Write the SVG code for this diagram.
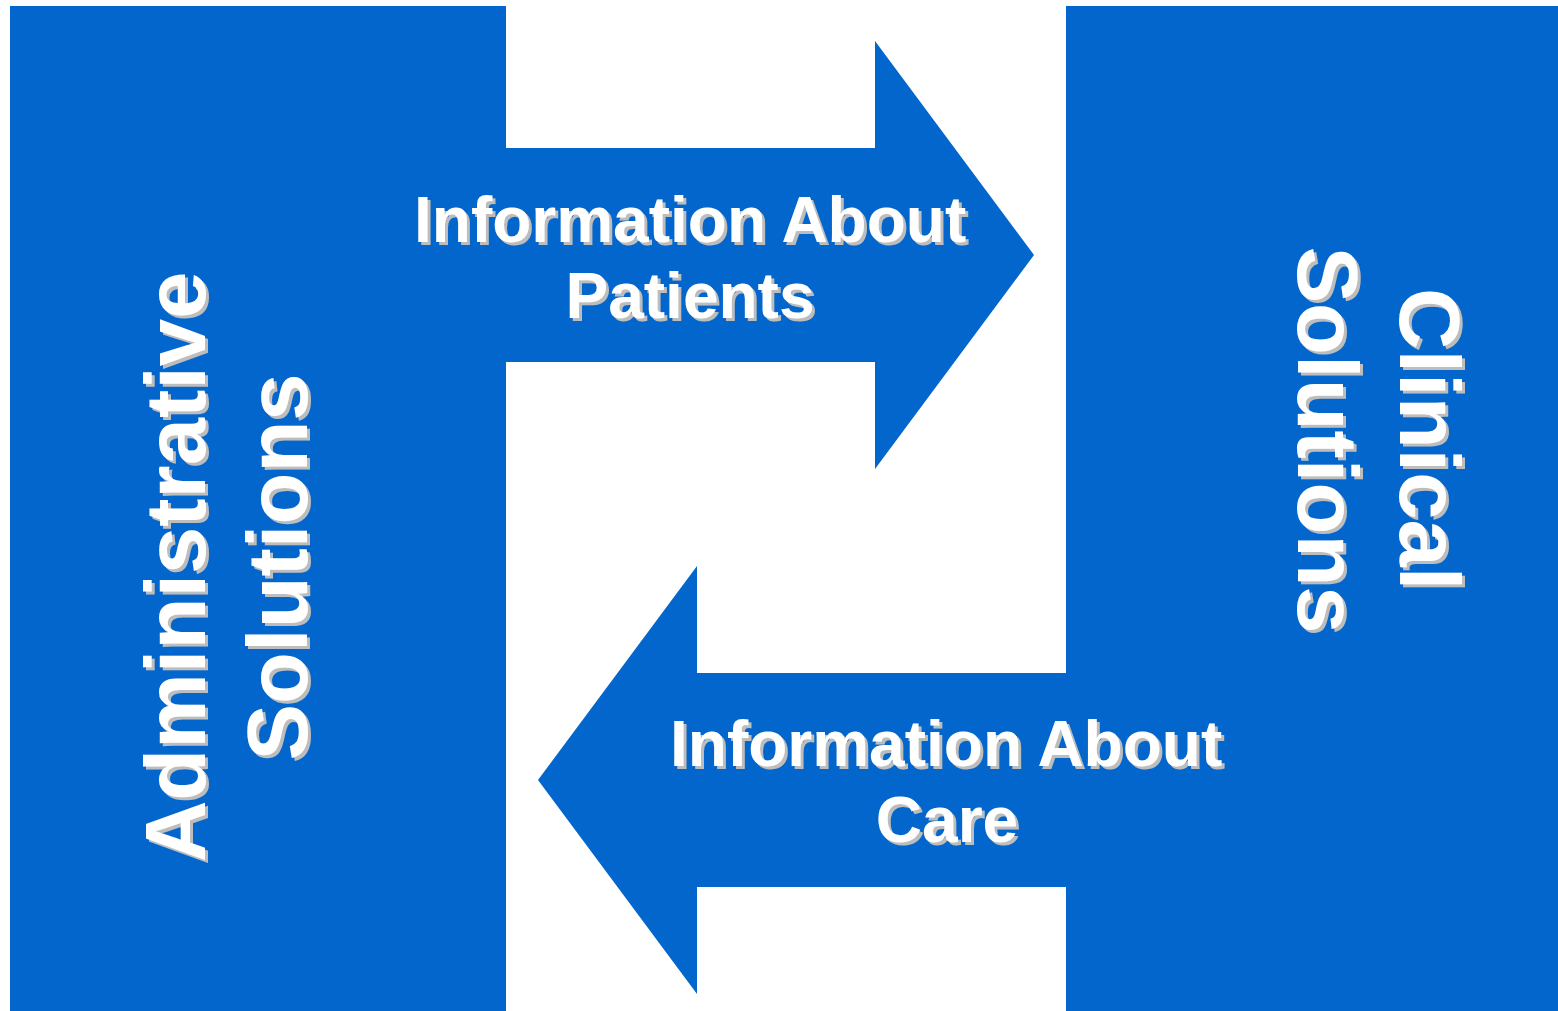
<svg xmlns="http://www.w3.org/2000/svg" width="1558" height="1011" viewBox="0 0 1558 1011">
  <style>
    .block { fill: #0366CD; }
    .label { font-family: "Liberation Sans", Arial, sans-serif; font-weight: bold; fill: #FFFFFF; text-anchor: middle; }
    .h { font-size: 64px; }
    .v { font-size: 85px; }
  </style>
  <defs>
    <filter id="shadow" x="-10%" y="-10%" width="120%" height="120%">
      <feDropShadow dx="3" dy="3" stdDeviation="0.4" flood-color="#BDBDBD" flood-opacity="1"/>
    </filter>
  </defs>
  <rect width="1558" height="1011" fill="#FFFFFF"/>

  <!-- Left column -->
  <g id="administrative-solutions">
    <rect class="block" x="10" y="6" width="496" height="1005"/>
    <g filter="url(#shadow)">
      <text class="label v" transform="translate(205,567) rotate(-90)">
        <tspan x="12" y="0">Administrative</tspan>
        <tspan x="0" y="102">Solutions</tspan>
      </text>
    </g>
  </g>

  <!-- Right column -->
  <g id="clinical-solutions">
    <rect class="block" x="1066" y="6" width="492" height="1005"/>
    <g filter="url(#shadow)">
      <text class="label v" transform="translate(1400,440) rotate(90)">
        <tspan x="11" y="0">Clinical</tspan>
        <tspan x="0" y="102">Solutions</tspan>
      </text>
    </g>
  </g>

  <!-- Connecting arrows -->
  <g id="connectors">
    <g id="arrow-patients">
      <polygon class="block" points="506,148 875,148 875,41 1034,255 875,469 875,362 506,362"/>
      <g filter="url(#shadow)">
        <text class="label h">
          <tspan x="699" y="242">Information About</tspan>
          <tspan x="690" y="318">Patients</tspan>
        </text>
      </g>
    </g>
    <g id="arrow-care">
      <polygon class="block" points="1066,673 697,673 697,566 538,780 697,994 697,887 1066,887"/>
      <g filter="url(#shadow)">
        <text class="label h">
          <tspan x="955" y="766">Information About</tspan>
          <tspan x="947" y="842">Care</tspan>
        </text>
      </g>
    </g>
  </g>
</svg>
